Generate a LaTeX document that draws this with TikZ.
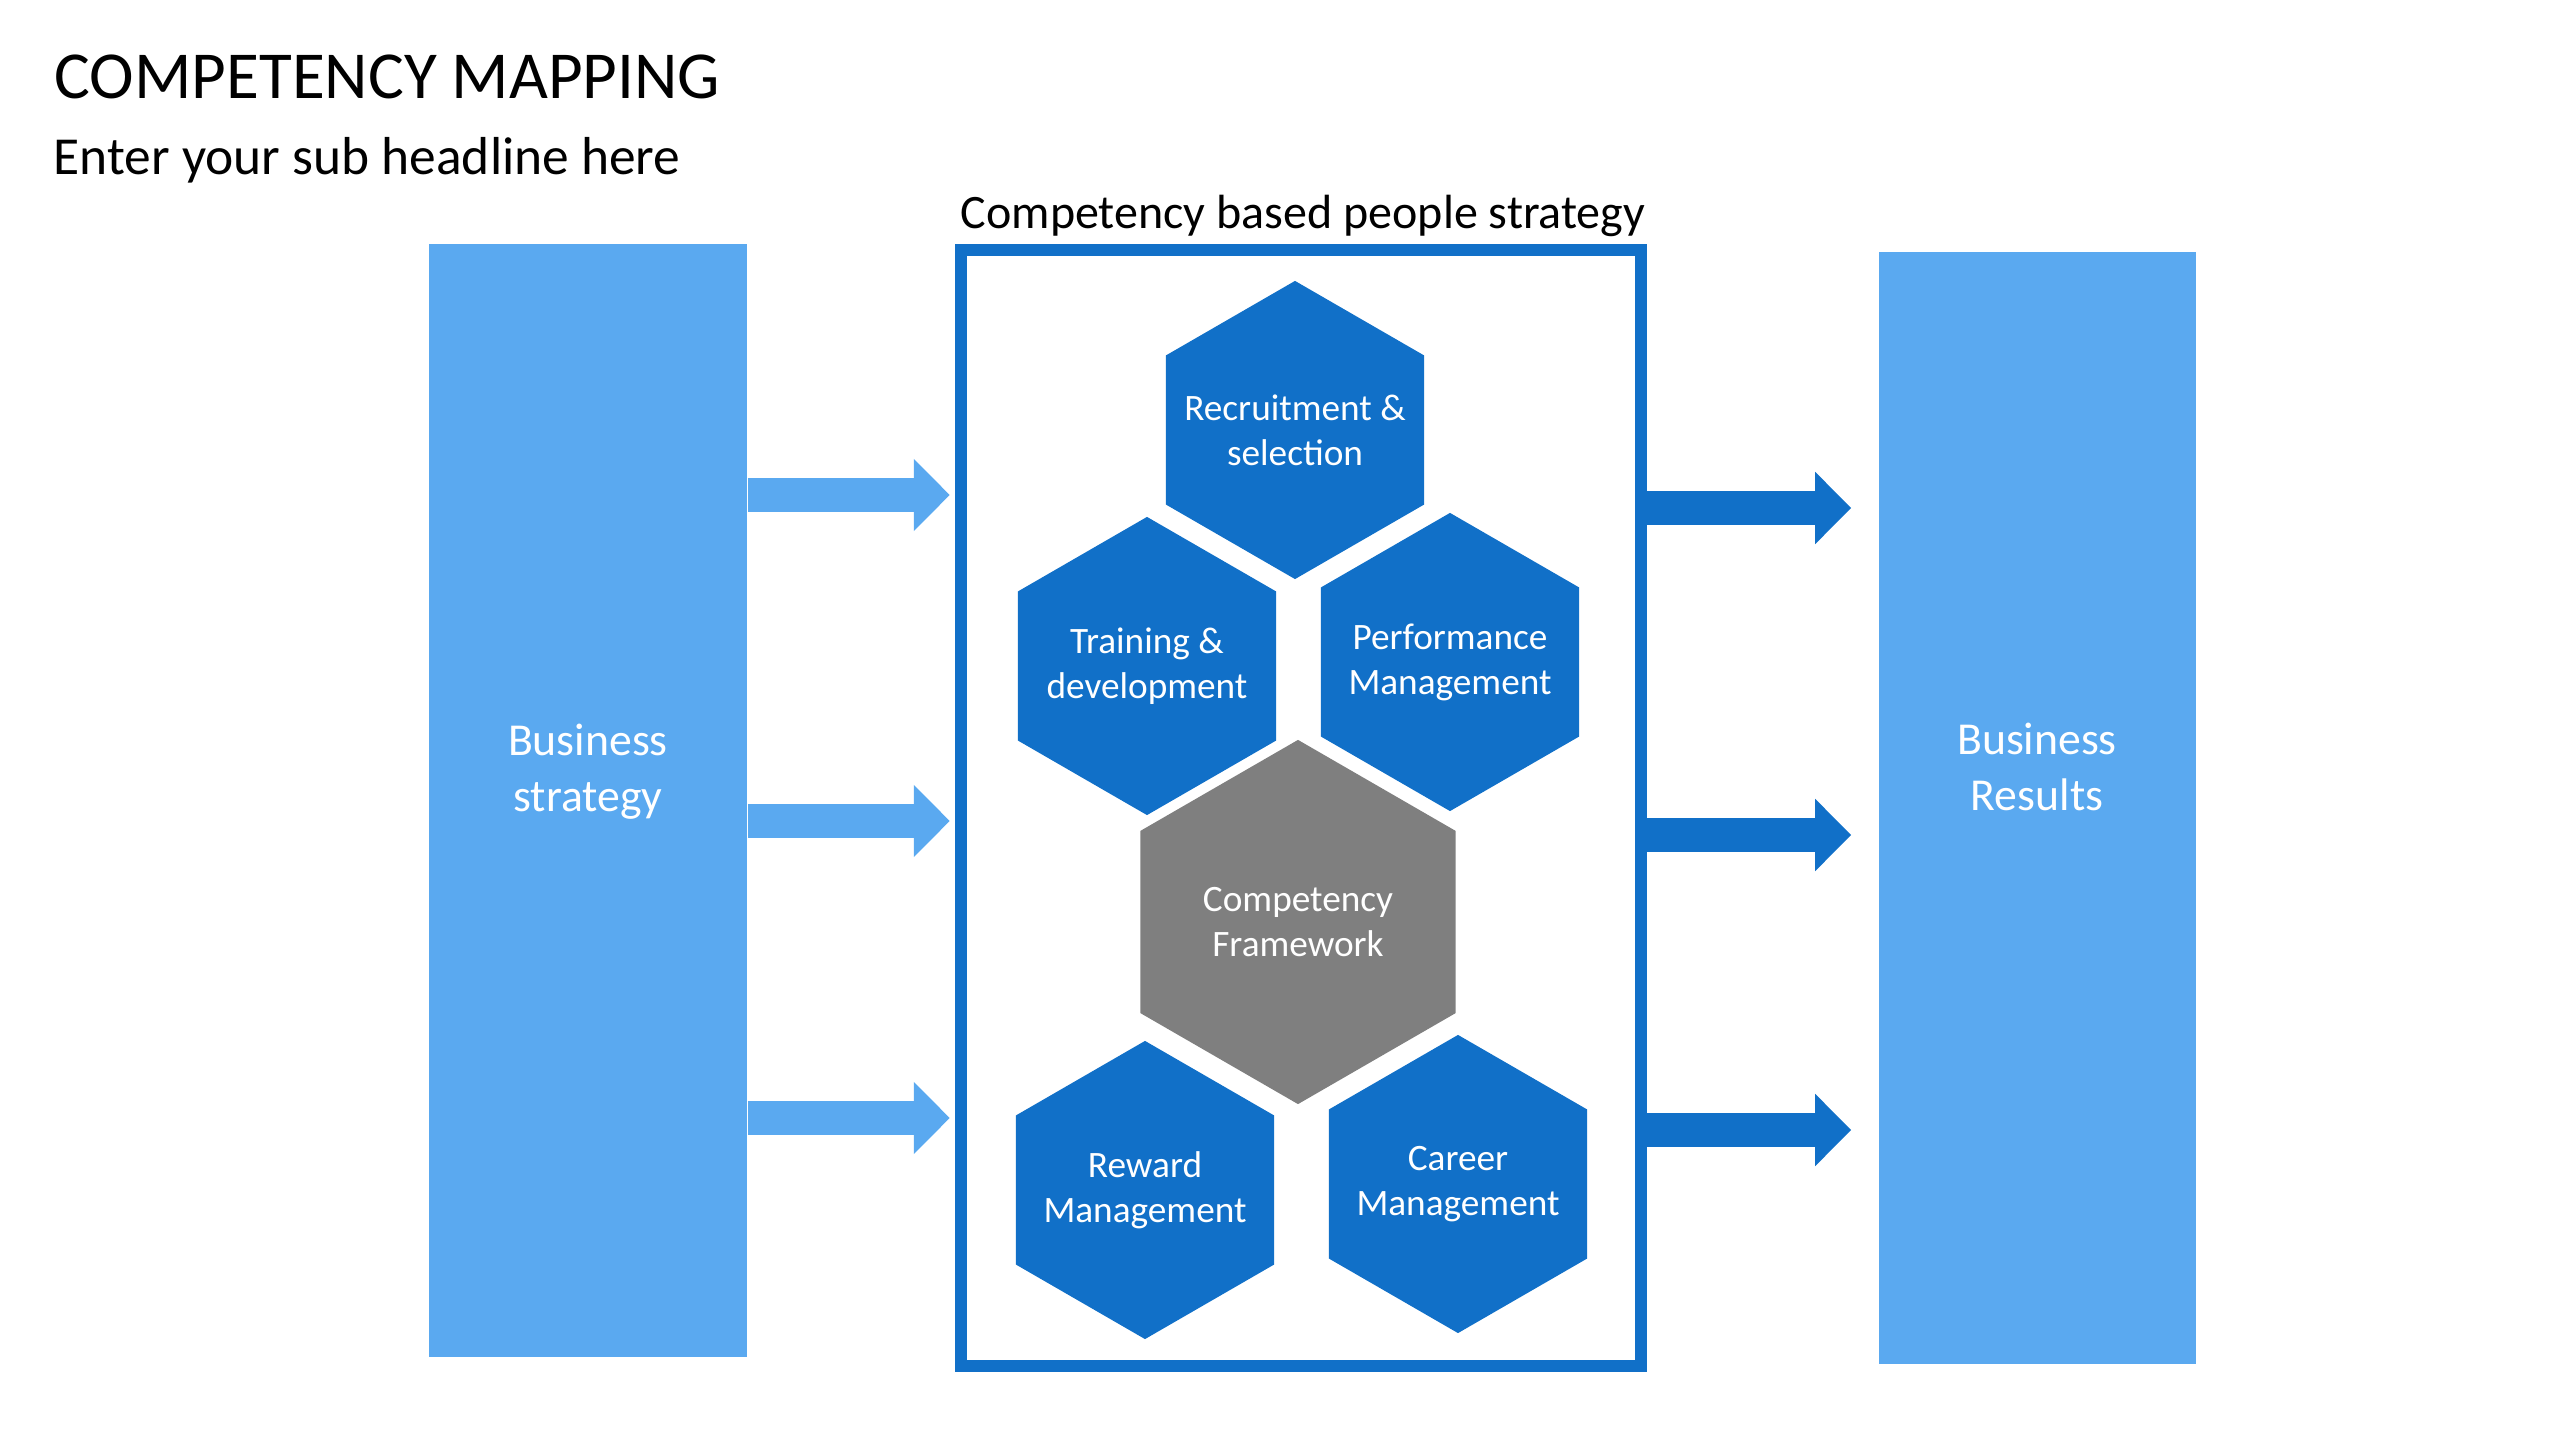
\documentclass[tikz,border=0pt]{standalone}
\usepackage{fontspec}
\setmainfont{Carlito}
\usetikzlibrary{shapes.geometric,arrows.meta}
\definecolor{hexblue}{HTML}{1170C8}
\definecolor{boxblue}{HTML}{5AA9F0}
\definecolor{hexgray}{HTML}{7F7F7F}
\begin{document}
\begin{tikzpicture}[x=0.01cm,y=-0.01cm]
% Styles
\tikzset{
  hex/.style={regular polygon,regular polygon sides=6,shape border rotate=30,
    fill=hexblue,inner sep=0pt,minimum size=2.98cm},
  hextext/.style={text=white,align=center,inner sep=0pt,
    font=\fontsize{10.6pt}{12.8pt}\selectfont},
  bigbox/.style={fill=boxblue,inner sep=0pt},
  boxtext/.style={text=white,align=center,font=\fontsize{13pt}{16pt}\selectfont},
  inarrow/.style={draw=boxblue,line width=0.34cm,-{Triangle[length=0.36cm,width=0.7cm]}},
  outarrow/.style={draw=hexblue,line width=0.34cm,-{Triangle[length=0.36cm,width=0.7cm]}}
}
\useasboundingbox (0,0) rectangle (2560,1440);

% headlines
\node[anchor=base west,inner sep=0pt,font=\fontsize{19.1pt}{23pt}\selectfont] (title) at (54,99) {COMPETENCY MAPPING};
\node[anchor=base west,inner sep=0pt,font=\fontsize{15.2pt}{18pt}\selectfont] (subtitle) at (53,175) {Enter your sub headline here};

% the three columns
\node[bigbox,minimum width=3.18cm,minimum height=11.13cm] (bizstrat) at (588,800.5) {};
\node[bigbox,minimum width=3.17cm,minimum height=11.12cm] (results) at (2037.5,808) {};
\node[draw=hexblue,line width=0.12cm,minimum width=6.8cm,minimum height=11.16cm,inner sep=0pt] (frame) at (1301,808) {};

\node[boxtext] (bizstratlbl) at (588,772) {Business\\strategy};
\node[boxtext] (resultslbl) at (2037,767) {Business\\Results};
\node[anchor=base,inner sep=0pt,font=\fontsize{13.65pt}{16pt}\selectfont] (caption) at (1303,229) {Competency based people strategy};

% the hexagons
\node[hex,label={[hextext]center:Recruitment \&\\selection}] (recruit) at (1295,430) {};
\node[hex,label={[hextext]center:Training \&\\development}] (training) at (1147,666) {};
\node[hex,label={[hextext]center:Performance\\Management}] (perform) at (1450,662) {};
\node[hex,fill=hexgray,minimum size=3.64cm,label={[hextext]center:Competency\\Framework}] (framework) at (1298,922) {};
\node[hex,label={[hextext]center:Reward\\Management}] (reward) at (1145,1190) {};
\node[hex,label={[hextext]center:Career\\Management}] (career) at (1458,1184) {};

% arrows in and out
\foreach \y in {495,821,1118} {
\draw[inarrow] (bizstrat.east |- 0,\y) -- ([xshift=-0.05cm]frame.west |- 0,\y);
}
\foreach \y in {508,835,1130} {
\draw[outarrow] (frame.east |- 0,\y) -- ([xshift=-0.27cm]results.west |- 0,\y);
}

\end{tikzpicture}
\end{document}
